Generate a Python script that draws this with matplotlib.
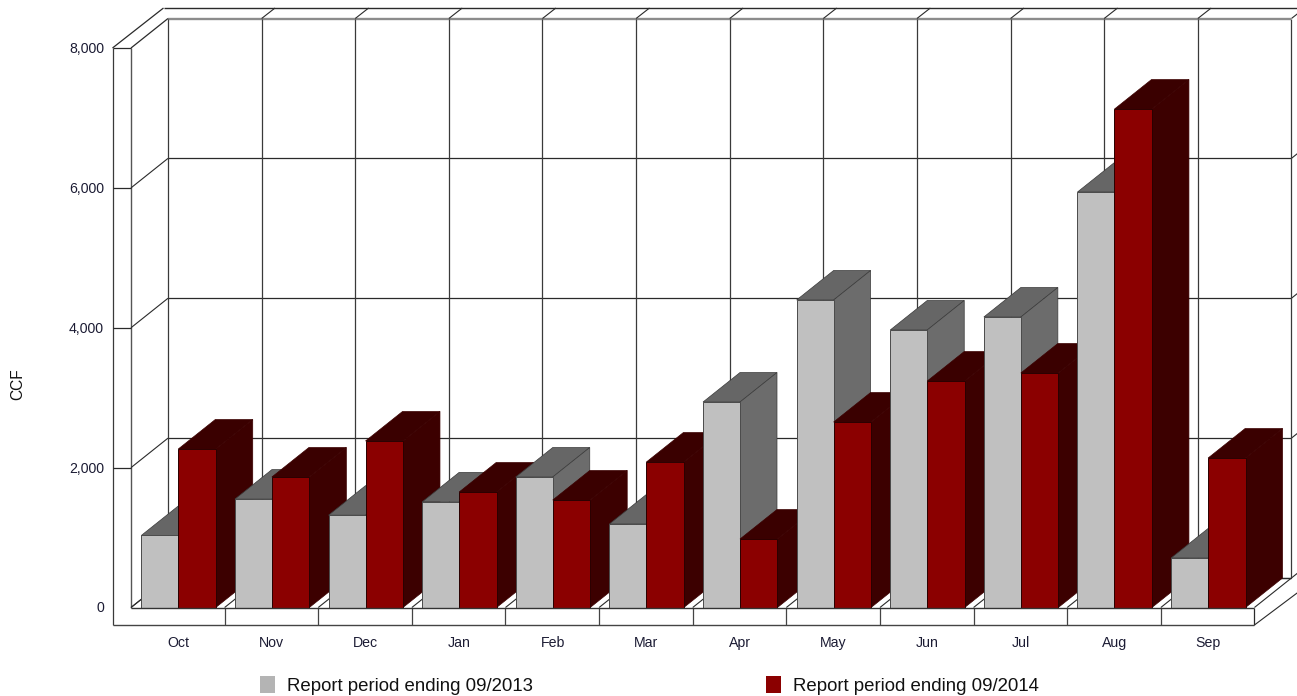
import matplotlib
matplotlib.use("Agg")
import matplotlib.pyplot as plt
from matplotlib.patches import Patch, Polygon

months = ["Oct", "Nov", "Dec", "Jan", "Feb", "Mar", "Apr", "May", "Jun", "Jul", "Aug", "Sep"]
usage_2013 = [1030, 1550, 1320, 1510, 1866, 1194, 2938, 4397, 3968, 4154, 5941, 708]
usage_2014 = [2266, 1866, 2381, 1651, 1537, 2080, 979, 2652, 3238, 3353, 7127, 2137]
y_ticks = [0, 2000, 4000, 6000, 8000]
series_names = ["Report period ending 09/2013", "Report period ending 09/2014"]

W, H = 1297, 696
CAT_PX = 93.62      # width of one month slot
UNIT_PX = 559.5 / 8000  # pixels per CCF
X0_PX, Y0_PX = 131.0, 607.5
DEPTH_X = 37.0 / CAT_PX     # oblique depth of the 3D box, in axis units
DEPTH_Y = 29.5 / UNIT_PX
BAND_X = 18.5 / CAT_PX      # front plinth and left strip
BAND_Y = 17.5 / UNIT_PX

TEXT = "#1c1c34"
LINE = "#2a2a2a"
FRONT = {"gray": "#c0c0c0", "red": "#8b0000"}
TOP = {"gray": "#666666", "red": "#3a0000"}
SIDE = {"gray": "#6c6c6c", "red": "#3c0000"}
FRONT_EDGE = {"gray": "#4a4a4a", "red": "#2a0000"}
DEPTH_EDGE = {"gray": "#3a3a3a", "red": "#3a0000"}

plt.rcParams["font.family"] = ["Liberation Sans", "DejaVu Sans"]
fig = plt.figure(figsize=(W / 100, H / 100), dpi=100, facecolor="white")
ax = fig.add_axes([0, 0, 1, 1])
ax.set_xlim(-X0_PX / CAT_PX, (W - X0_PX) / CAT_PX)
ax.set_ylim((Y0_PX - H) / UNIT_PX, Y0_PX / UNIT_PX)
ax.axis("off")

n = len(months)
top = y_ticks[-1]


def seg(xs, ys, color=LINE, lw=0.9, z=1):
    ax.plot(xs, ys, color=color, lw=lw, zorder=z, solid_capstyle="butt", clip_on=True)


# back wall grid
for v in y_ticks[:-1]:
    seg([DEPTH_X, n + DEPTH_X], [v + DEPTH_Y, v + DEPTH_Y], lw=0.9)
    seg([n + DEPTH_X, n + DEPTH_X + 6 / CAT_PX], [v + DEPTH_Y, v + DEPTH_Y + 4.8 / UNIT_PX], lw=0.8)
seg([DEPTH_X, n + DEPTH_X], [top + DEPTH_Y] * 2, color="#8c8c8c", lw=1.7)
for i in range(n + 1):
    seg([i + DEPTH_X] * 2, [DEPTH_Y, top + DEPTH_Y], color="#3a3a3a")

# upper edge of the box and its depth ticks
ROOF = 10.5 / UNIT_PX
seg([-BAND_X + 51 / CAT_PX, n + 1], [top + DEPTH_Y + ROOF] * 2, lw=1.0)
seg([-BAND_X, -BAND_X + 51 / CAT_PX], [top, top + DEPTH_Y + ROOF], lw=0.9)
seg([0, DEPTH_X], [top, top + DEPTH_Y], lw=0.9)
for i in range(1, n + 1):
    seg([i + DEPTH_X, i + DEPTH_X + 13.4 / CAT_PX], [top + DEPTH_Y, top + DEPTH_Y + ROOF], lw=0.8)

# left strip with its tick shelves
seg([-BAND_X] * 2, [-BAND_Y, top], color="#3a3a3a")
seg([0, 0], [0, top], color="#555555", lw=1.0)
for v in y_ticks:
    if v > 0:
        seg([-BAND_X, 0], [v, v], lw=0.9)
    if v < top:
        seg([0, DEPTH_X], [v, v + DEPTH_Y], lw=0.8)

# floor, plinth and right end
seg([DEPTH_X, n + DEPTH_X], [DEPTH_Y, DEPTH_Y], lw=0.9)
seg([n, n + DEPTH_X], [0, DEPTH_Y], lw=0.8)
seg([n, n + 44 / CAT_PX], [-BAND_Y, -BAND_Y + 33 / UNIT_PX], lw=0.8)
seg([n, n], [-BAND_Y, 0], lw=0.9)
seg([-BAND_X, n], [-BAND_Y, -BAND_Y], color="#444444", lw=1.0)
for i in range(n):
    seg([i, i + DEPTH_X], [0, DEPTH_Y], lw=0.8)
    if i > 0:
        seg([i, i], [-BAND_Y, 0], color="#444444", lw=0.9)


def bar3d(left, right, value, tone, z):
    """Front, top and side faces of one oblique bar."""
    faces = [
        (TOP[tone], DEPTH_EDGE[tone], 0.5,
         [(left, value), (right, value), (right + DEPTH_X, value + DEPTH_Y), (left + DEPTH_X, value + DEPTH_Y)]),
        (SIDE[tone], DEPTH_EDGE[tone], 0.5,
         [(right, 0), (right + DEPTH_X, DEPTH_Y), (right + DEPTH_X, value + DEPTH_Y), (right, value)]),
        (FRONT[tone], FRONT_EDGE[tone], 0.7,
         [(left, 0), (right, 0), (right, value), (left, value)]),
    ]
    for color, edge, lw, pts in faces:
        ax.add_patch(Polygon(pts, closed=True, facecolor=color, edgecolor=edge, lw=lw, zorder=z))


for i in range(n):
    bar3d(i + 0.11, i + 0.505, usage_2013[i], "gray", 10 + 2 * i)
    bar3d(i + 0.505, i + 0.905, usage_2014[i], "red", 11 + 2 * i)

# baseline over the bar feet
seg([0, n], [0, 0], color="#333333", lw=1.0, z=50)

# labels
for v in y_ticks:
    ax.text(-27 / CAT_PX, v - 5 / UNIT_PX, f"{v:,}", ha="right", va="baseline", fontsize=10.2, color=TEXT, zorder=60)
for i, m in enumerate(months):
    ax.text(i + 0.505, -39.5 / UNIT_PX, m, ha="center", va="baseline", fontsize=10.2, color=TEXT, zorder=60)
ax.text((17.5 - X0_PX) / CAT_PX, (Y0_PX - 384) / UNIT_PX, "CCF", rotation=90, ha="center", va="center",
        fontsize=11.2, color="#111111", zorder=60)

handles = [Patch(facecolor="#b4b4b4", edgecolor="none"), Patch(facecolor="#8b0000", edgecolor="none")]
ax.legend(handles, series_names, ncol=2, frameon=False, fontsize=13.4, labelcolor="#111111",
          handlelength=0.78, handleheight=1.0, handletextpad=0.66, columnspacing=12.55,
          borderpad=0, borderaxespad=0, loc="center left",
          bbox_to_anchor=((260 - X0_PX) / CAT_PX, (Y0_PX - 685.5) / UNIT_PX),
          bbox_transform=ax.transData)

fig.savefig("out.png", dpi=100, facecolor="white")
